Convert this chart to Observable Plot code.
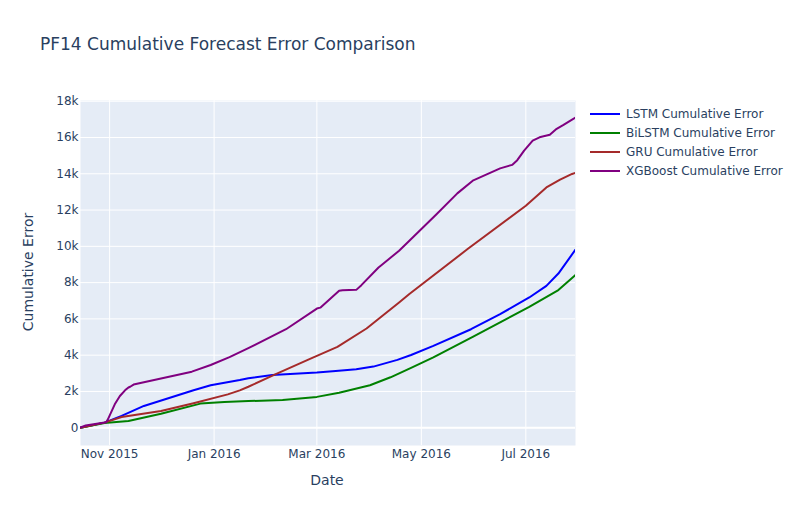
<!DOCTYPE html>
<html><head><meta charset="utf-8">
<script src="https://cdn.jsdelivr.net/npm/d3@7"></script>
<script src="https://cdn.jsdelivr.net/npm/@observablehq/plot@0.6"></script>
<style>
body{margin:0;background:#fff;font-family:"DejaVu Sans",sans-serif;}
#wrap{position:relative;width:801px;height:525px;overflow:hidden;}
#wrap svg{position:absolute;left:0;top:0;}
.txt{position:absolute;color:#2a3f5f;white-space:nowrap;line-height:20px;}
.title{left:40px;top:34px;font-size:17px;}
.xlab{left:327px;top:470px;font-size:14px;transform:translateX(-50%);}
.ylab{left:28px;top:272px;font-size:14px;transform:translate(-50%,-50%) rotate(-90deg);}
.leg{position:absolute;font-size:12px;color:#2a3f5f;white-space:nowrap;line-height:16px;}
.sw{position:absolute;width:30px;height:2px;}
</style></head>
<body><div id="wrap"></div>
<script>
const seriesNames = ["LSTM Cumulative Error","BiLSTM Cumulative Error","GRU Cumulative Error","XGBoost Cumulative Error"];
const seriesColors = ["blue","green","#a52a2a","purple"];

const lstmDates = ["2015-10-15","2015-10-29","2015-11-08","2015-11-21","2015-12-20","2015-12-30","2016-01-16","2016-01-21","2016-02-04","2016-03-01","2016-03-12","2016-03-24","2016-04-03","2016-04-17","2016-04-25","2016-05-08","2016-05-30","2016-06-16","2016-07-03","2016-07-13","2016-07-20","2016-07-30"];
const lstmValues = [0,280,650,1200,2070,2340,2630,2730,2910,3040,3130,3220,3370,3740,4010,4510,5430,6260,7180,7820,8500,9820];

const bilstmDates = ["2015-10-15","2015-10-29","2015-11-12","2015-12-01","2015-12-24","2016-01-07","2016-01-21","2016-02-10","2016-03-01","2016-03-14","2016-04-01","2016-04-13","2016-04-25","2016-05-08","2016-05-31","2016-07-03","2016-07-20","2016-07-30"];
const bilstmValues = [0,260,370,770,1330,1420,1470,1530,1700,1930,2340,2780,3300,3880,5010,6660,7590,8420];

const gruDates = ["2015-10-15","2015-10-29","2015-11-08","2015-12-01","2015-12-20","2016-01-09","2016-01-16","2016-01-21","2016-02-06","2016-02-26","2016-03-01","2016-03-13","2016-03-30","2016-04-18","2016-04-24","2016-05-28","2016-07-01","2016-07-13","2016-07-21","2016-07-28","2016-07-30"];
const gruValues = [0,280,590,920,1350,1840,2060,2260,2950,3800,3960,4460,5470,6900,7370,9850,12240,13250,13680,13990,14050];

const xgbDates = ["2015-10-15","2015-10-18","2015-10-30","2015-10-31","2015-11-04","2015-11-07","2015-11-10","2015-11-12","2015-11-13","2015-11-15","2015-12-19","2015-12-30","2016-01-10","2016-01-21","2016-02-12","2016-03-01","2016-03-03","2016-03-14","2016-03-16","2016-03-24","2016-03-27","2016-04-06","2016-04-08","2016-04-18","2016-04-24","2016-05-10","2016-05-22","2016-05-31","2016-06-16","2016-06-23","2016-06-26","2016-06-30","2016-07-05","2016-07-09","2016-07-15","2016-07-19","2016-07-23","2016-07-28","2016-07-30"];
const xgbValues = [20,120,300,460,1290,1750,2060,2220,2260,2380,3090,3460,3890,4390,5430,6570,6620,7550,7580,7600,7860,8830,8980,9760,10310,11780,12920,13620,14300,14490,14750,15280,15830,16010,16150,16480,16700,16990,17100];

const xTicks = ["2015-11-01","2016-01-01","2016-03-01","2016-05-01","2016-07-01"];
const yTicks = [0,2000,4000,6000,8000,10000,12000,14000,16000,18000];
const xDomain = ["2015-10-15","2016-07-30"];
const yDomain = [-980, 18040];

const allDates = [lstmDates, bilstmDates, gruDates, xgbDates];
const allValues = [lstmValues, bilstmValues, gruValues, xgbValues];
const data = [];
allDates.forEach((ds, i) => ds.forEach((d, j) => data.push({series: seriesNames[i], date: new Date(d), value: allValues[i][j]})));

const tickDates = xTicks.map(d => new Date(d));
const chart = Plot.plot({
  width: 801, height: 525,
  marginLeft: 80, marginRight: 226, marginTop: 100, marginBottom: 80,
  style: {fontFamily: "'DejaVu Sans', sans-serif", fontSize: "12px", color: "#2a3f5f", background: "transparent", overflow: "visible"},
  x: {type: "utc", domain: xDomain.map(d => new Date(d)), ticks: tickDates, tickFormat: d3.utcFormat("%b %Y"), tickSize: 0, tickPadding: 4, label: null},
  y: {domain: yDomain, ticks: yTicks, tickFormat: d => d === 0 ? "0" : (d / 1000) + "k", tickSize: 0, tickPadding: 2, label: null},
  color: {domain: seriesNames, range: seriesColors},
  marks: [
    Plot.frame({fill: "#E5ECF6", stroke: "none"}),
    Plot.gridX(tickDates, {stroke: "white", strokeOpacity: 1, strokeWidth: 1}),
    Plot.gridY(yTicks, {stroke: "white", strokeOpacity: 1, strokeWidth: 1}),
    Plot.ruleY([0], {stroke: "white", strokeWidth: 2}),
    Plot.line(data, {x: "date", y: "value", z: "series", stroke: "series", strokeWidth: 2, clip: true})
  ]
});
const wrap = document.getElementById("wrap");
wrap.appendChild(chart);

function addText(cls, text) {
  const d = document.createElement("div");
  d.className = "txt " + cls;
  d.textContent = text;
  wrap.appendChild(d);
}
addText("title", "PF14 Cumulative Forecast Error Comparison");
addText("xlab", "Date");
addText("ylab", "Cumulative Error");

seriesNames.forEach((name, i) => {
  const cy = 114 + i * 19;
  const sw = document.createElement("div");
  sw.className = "sw";
  sw.style.left = "590px";
  sw.style.top = (cy - 1) + "px";
  sw.style.background = seriesColors[i];
  wrap.appendChild(sw);
  const t = document.createElement("div");
  t.className = "leg";
  t.style.left = "626px";
  t.style.top = (cy - 8) + "px";
  t.textContent = name;
  wrap.appendChild(t);
});
</script>
</body></html>
